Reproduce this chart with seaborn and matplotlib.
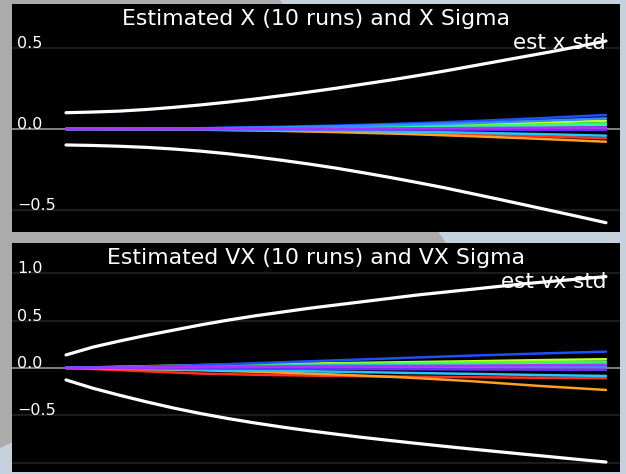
import numpy as np
import pandas as pd
import matplotlib
matplotlib.use("Agg")
import matplotlib.pyplot as plt
from matplotlib.patches import Polygon
import seaborn as sns

# ---------------- data ----------------
t_std = [0, 0.5, 1, 1.5, 2, 2.5, 3, 3.5, 4, 4.5, 5, 5.5, 6, 6.5, 7, 7.5, 8, 8.5, 9, 9.5, 10]
x_std_upper = [0.100, 0.104, 0.110, 0.120, 0.133, 0.148, 0.165, 0.184, 0.205, 0.227, 0.250,
               0.275, 0.300, 0.327, 0.355, 0.385, 0.415, 0.445, 0.475, 0.507, 0.540]
x_std_lower = [-0.098, -0.101, -0.106, -0.113, -0.123, -0.136, -0.152, -0.171, -0.192, -0.215, -0.240,
               -0.268, -0.297, -0.328, -0.360, -0.395, -0.430, -0.466, -0.502, -0.538, -0.575]
vx_std_upper = [0.137, 0.220, 0.285, 0.345, 0.400, 0.455, 0.505, 0.550, 0.590, 0.630, 0.665,
                0.700, 0.735, 0.770, 0.800, 0.830, 0.860, 0.890, 0.915, 0.940, 0.965]
vx_std_lower = [-0.127, -0.215, -0.290, -0.360, -0.425, -0.483, -0.535, -0.582, -0.625, -0.664, -0.700,
                -0.735, -0.767, -0.798, -0.828, -0.857, -0.885, -0.913, -0.940, -0.968, -0.995]

t_run = [0, 1.25, 2.5, 3.75, 5, 6.25, 7.5, 8.75, 10]
run_names = ["red", "orange", "yellow", "green", "spring", "cyan", "blue", "dodger", "purple", "magenta"]
run_colors = ["#ff3020", "#ffa020", "#c8ff20", "#40ff40", "#20ffa0", "#20c8ff", "#1e50ff", "#3090ff", "#6a30ff", "#b030ff"]

x_runs = {
    "red":     [0, -0.001, -0.004, -0.009, -0.015, -0.023, -0.032, -0.044, -0.057],
    "orange":  [0, -0.001, -0.004, -0.010, -0.019, -0.030, -0.044, -0.060, -0.078],
    "yellow":  [0, 0.001, 0.003, 0.007, 0.013, 0.020, 0.029, 0.039, 0.051],
    "green":   [0, 0.000, 0.002, 0.005, 0.009, 0.014, 0.020, 0.027, 0.035],
    "spring":  [0, 0.000, 0.001, 0.003, 0.006, 0.010, 0.014, 0.019, 0.025],
    "cyan":    [0, -0.001, -0.003, -0.006, -0.010, -0.016, -0.023, -0.031, -0.041],
    "blue":    [0, 0.001, 0.005, 0.012, 0.021, 0.033, 0.048, 0.066, 0.086],
    "dodger":  [0, 0.001, 0.004, 0.009, 0.016, 0.025, 0.036, 0.050, 0.065],
    "purple":  [0, 0.000, -0.001, -0.001, -0.002, -0.003, -0.004, -0.005, -0.006],
    "magenta": [0, 0.000, 0.001, 0.001, 0.002, 0.004, 0.006, 0.008, 0.010],
}
vx_runs = {
    "red":     [0, -0.030, -0.060, -0.075, -0.085, -0.092, -0.098, -0.104, -0.109],
    "orange":  [0, -0.010, -0.025, -0.045, -0.070, -0.100, -0.140, -0.190, -0.233],
    "yellow":  [0, 0.015, 0.030, 0.040, 0.050, 0.060, 0.070, 0.082, 0.092],
    "green":   [0, 0.010, 0.020, 0.030, 0.040, 0.048, 0.055, 0.062, 0.067],
    "spring":  [0, 0.006, 0.012, 0.018, 0.024, 0.030, 0.035, 0.040, 0.045],
    "cyan":    [0, -0.008, -0.018, -0.028, -0.040, -0.052, -0.063, -0.075, -0.085],
    "blue":    [0, 0.012, 0.030, 0.055, 0.080, 0.105, 0.130, 0.152, 0.172],
    "dodger":  [0, 0.005, 0.012, 0.020, 0.025, 0.022, 0.018, 0.014, 0.010],
    "purple":  [0, -0.002, -0.005, -0.008, -0.011, -0.013, -0.016, -0.018, -0.020],
    "magenta": [0, 0.004, 0.008, 0.012, 0.016, 0.020, 0.024, 0.028, 0.032],
}

titles = ["Estimated X (10 runs) and X Sigma", "Estimated VX (10 runs) and VX Sigma"]
legend_labels = ["est x std", "est vx std"]
yticks_top = [-0.5, 0.0, 0.5]
yticks_bottom = [-1.0, -0.5, 0.0, 0.5, 1.0]
tick_labels_top = ["\u22120.5", "0.0", "0.5"]
tick_labels_bottom = ["", "\u22120.5", "0.0", "0.5", "1.0"]

# ---------------- figure ----------------
sns.set_theme(style="dark")
plt.rcParams["font.family"] = ["DejaVu Sans"]

W, H = 626, 474
fig = plt.figure(figsize=(W / 100, H / 100), dpi=100)
fig.patch.set_facecolor("#c6d1de")
# grey background region of the simulator scene
fig.patches.append(Polygon([(0, 1), (280 / W, 1), (446 / W, 1 - 243 / H), (0, 1 - 448 / H)],
                           closed=True, transform=fig.transFigure, facecolor="#ababab",
                           edgecolor="none", zorder=-10))

ax1 = fig.add_axes([12 / W, 1 - 232 / H, 608 / W, 228 / H])
ax2 = fig.add_axes([12 / W, 1 - 472 / H, 608 / W, 229 / H])


def draw(ax, runs, up, lo, ylim, ticks, labels, title, leg):
    ax.set_facecolor("black")
    for s in ax.spines.values():
        s.set_visible(False)
    for tk in ticks:
        if tk == 0:
            ax.axhline(tk, color="#8a8a8a", lw=1.3, zorder=1)
        else:
            ax.axhline(tk, color="#1c1c1c", lw=1.6, zorder=1)
    rows = []
    for name in run_names:
        for tt, v in zip(t_run, runs[name]):
            rows.append({"t": tt, "v": v, "run": name})
    df = pd.DataFrame(rows)
    sns.lineplot(data=df, x="t", y="v", hue="run", hue_order=run_names,
                 palette=run_colors, estimator=None, sort=False, lw=1.8,
                 legend=False, ax=ax, zorder=3)
    sdf = pd.DataFrame({"t": t_std, "up": up, "lo": lo})
    sns.lineplot(data=sdf, x="t", y="up", color="white", lw=2.3, ax=ax, zorder=4)
    sns.lineplot(data=sdf, x="t", y="lo", color="white", lw=2.3, ax=ax, zorder=4)
    ax.set_xlim(-1.0, 10.26)
    ax.set_ylim(*ylim)
    ax.set_xticks([])
    ax.set_yticks([])
    ax.set_xlabel("")
    ax.set_ylabel("")
    tr = matplotlib.transforms.blended_transform_factory(ax.transAxes, ax.transData)
    for tk, lb in zip(ticks, labels):
        if lb:
            ax.text(0.008, tk, lb, transform=tr, color="white", fontsize=11.5,
                    ha="left", va="baseline", zorder=5)
    ax.text(0.5, 0.934, title, transform=ax.transAxes, color="white", fontsize=15.8,
            ha="center", va="center", zorder=5)
    ax.text(0.977, 0.828, leg, transform=ax.transAxes, color="white", fontsize=15.5,
            ha="right", va="center", zorder=5)


draw(ax1, x_runs, x_std_upper, x_std_lower, (-0.632, 0.767), yticks_top,
     tick_labels_top, titles[0], legend_labels[0])
draw(ax2, vx_runs, vx_std_upper, vx_std_lower, (-1.10, 1.32), yticks_bottom,
     tick_labels_bottom, titles[1], legend_labels[1])

fig.savefig("out.png", dpi=100, facecolor=fig.get_facecolor())
